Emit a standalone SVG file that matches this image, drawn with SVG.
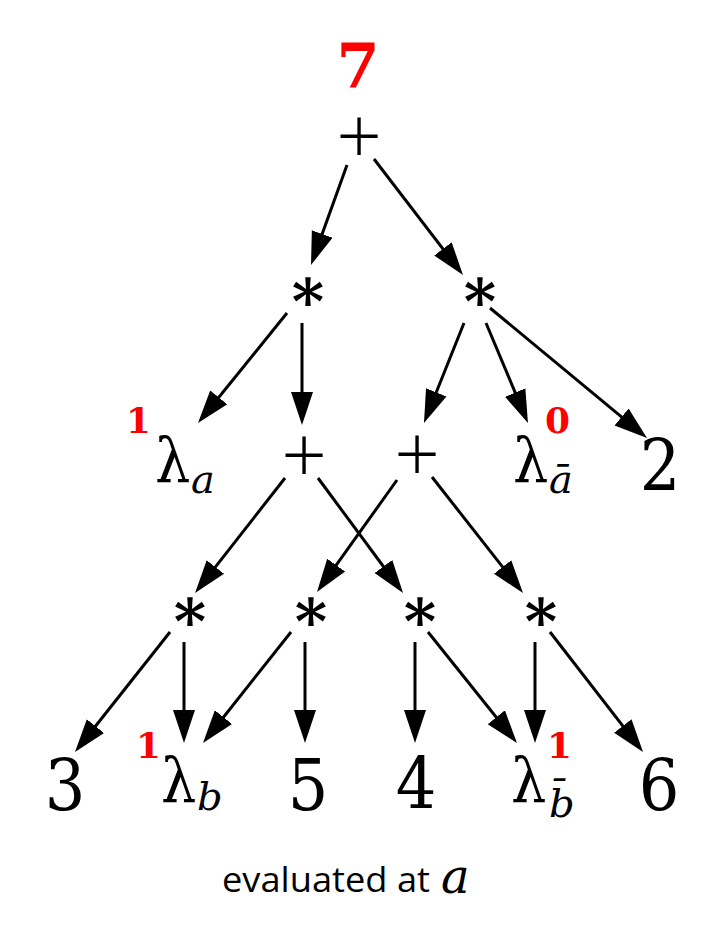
<svg xmlns="http://www.w3.org/2000/svg" width="727" height="929" viewBox="0 0 727 929">
<style>
.op{font-family:'Open Sans',sans-serif;font-weight:300;font-size:80px;fill:#000;text-anchor:middle}
.ast{font-family:'DejaVu Serif',serif;font-weight:bold;font-size:62px;fill:#000;text-anchor:middle}
.num{font-family:'DejaVu Serif',serif;font-stretch:condensed;font-size:71px;fill:#000;text-anchor:middle}
.lam{font-family:'DejaVu Serif',serif;font-stretch:condensed;font-size:62px;fill:#000}
.sub{font-family:'DejaVu Serif',serif;font-size:40px;font-style:italic;fill:#000}
.val{font-family:'DejaVu Serif',serif;font-weight:bold;font-size:36px;fill:#ff0000;text-anchor:middle}
.cap{font-family:'Open Sans',sans-serif;font-size:34px;fill:#000}
.edge{stroke:#000;stroke-width:3;fill:none;marker-end:url(#ah)}
</style>
<defs>
<marker id="ah" markerUnits="userSpaceOnUse" markerWidth="34" markerHeight="24" refX="23" refY="11" orient="auto" viewBox="0 0 34 22">
<path d="M0,0 L33,11 L0,22 z" fill="#000"/>
</marker>
</defs>
<rect width="727" height="929" fill="#fff"/>
<g id="connectors">
<line class="edge" x1="347" y1="165" x2="314.4" y2="255.6"/>
<line class="edge" x1="374" y1="159" x2="456.9" y2="267.1"/>
<line class="edge" x1="287" y1="313" x2="204.3" y2="415.2"/>
<line class="edge" x1="302" y1="323" x2="302" y2="415"/>
<line class="edge" x1="464" y1="323" x2="427.7" y2="413.7"/>
<line class="edge" x1="486" y1="323" x2="524.1" y2="413.8"/>
<line class="edge" x1="490" y1="308" x2="639.3" y2="431.6"/>
<line class="edge" x1="285" y1="478" x2="201.2" y2="585.1"/>
<line class="edge" x1="318" y1="478" x2="397.1" y2="585"/>
<line class="edge" x1="397" y1="480" x2="322.8" y2="583.9"/>
<line class="edge" x1="432" y1="477" x2="516.8" y2="585.1"/>
<line class="edge" x1="170" y1="632" x2="81.2" y2="744.2"/>
<line class="edge" x1="184" y1="642" x2="184" y2="733"/>
<line class="edge" x1="291" y1="632" x2="209.2" y2="735.2"/>
<line class="edge" x1="305" y1="642" x2="305" y2="733"/>
<line class="edge" x1="415" y1="642" x2="415" y2="733"/>
<line class="edge" x1="428" y1="632" x2="510.7" y2="735.2"/>
<line class="edge" x1="535" y1="642" x2="535" y2="733"/>
<line class="edge" x1="550" y1="632" x2="636.9" y2="744.1"/>
</g>
<g id="root-plus">
<text class="val" x="358" y="88" style="font-size:62px">7</text>
<text class="op" x="359" y="164">+</text>
</g>
<g id="mul-left"><text class="ast" x="308" y="323">*</text></g>
<g id="mul-right"><text class="ast" x="480" y="323">*</text></g>
<g id="lambda-a">
<text class="val" x="138.5" y="433">1</text>
<text class="lam" x="155" y="482">λ</text>
<text class="sub" x="191" y="493">a</text>
</g>
<g id="plus-left"><text class="op" x="304" y="483">+</text></g>
<g id="plus-right"><text class="op" x="417" y="482">+</text></g>
<g id="lambda-abar">
<text class="val" x="557.5" y="433">0</text>
<text class="lam" x="513" y="482">λ</text>
<text class="sub" x="549" y="493">ā</text>
</g>
<g id="num-2"><text class="num" x="660" y="490">2</text></g>
<g id="mul-1"><text class="ast" x="190" y="643">*</text></g>
<g id="mul-2"><text class="ast" x="311" y="643">*</text></g>
<g id="mul-3"><text class="ast" x="420" y="643">*</text></g>
<g id="mul-4"><text class="ast" x="541" y="643">*</text></g>
<g id="num-3"><text class="num" x="65" y="810">3</text></g>
<g id="lambda-b">
<text class="val" x="148.5" y="758">1</text>
<text class="lam" x="161" y="802">λ</text>
<text class="sub" x="197" y="810">b</text>
</g>
<g id="num-5"><text class="num" x="308" y="810">5</text></g>
<g id="num-4"><text class="num" x="416" y="808">4</text></g>
<g id="lambda-bbar">
<text class="val" x="559.5" y="758">1</text>
<text class="lam" x="511" y="802">λ</text>
<text class="sub" x="549" y="817">b̄</text>
</g>
<g id="num-6"><text class="num" x="659" y="810">6</text></g>
<g id="caption">
<text class="cap" x="222" y="892" textLength="208" lengthAdjust="spacingAndGlyphs">evaluated at</text>
<text class="sub" x="441" y="893" style="font-size:48px">a</text>
</g>
</svg>
